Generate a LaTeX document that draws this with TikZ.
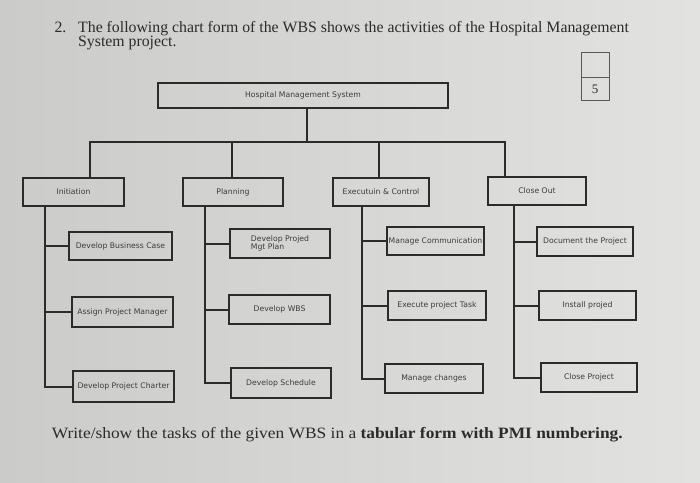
\documentclass[tikz,border=0pt]{standalone}
\usepackage{fontspec}
\setmainfont{Liberation Serif}
\newfontfamily\boxfont{DejaVu Sans}
\usepackage{xcolor}
\usetikzlibrary{positioning}
\definecolor{paperL}{HTML}{CBCBC9}
\definecolor{paperR}{HTML}{E2E2E0}
\definecolor{ink}{HTML}{2B2B2B}
\definecolor{boxink}{HTML}{3C3C3C}
\tikzset{
  wbsbox/.style={draw=ink,line width=2.2pt,inner sep=0pt,align=center,
    text=boxink,font=\boxfont\fontsize{7.7}{8}\selectfont},
  link/.style={draw=ink,line width=2pt},
  headtext/.style={anchor=base west,text=ink,font=\fontsize{15.8}{14.5}\selectfont}
}

\begin{document}
\begin{tikzpicture}[x=1pt,y=-1pt]
\shade[left color=paperL,right color=paperR](0,0)rectangle(700,482);
\useasboundingbox(0,0)rectangle(700,482);
% heading
\node[headtext](num)at(51,32){2.};
\node[headtext,anchor=north west,inner sep=0pt,align=left](head)at(78,21)
 {The following chart form of the WBS shows the activities of the Hospital Management\\System project.};
\node[headtext,xscale=1.1](task)at(48,438)
 {Write/show the tasks of the given WBS in a \textbf{tabular form with PMI numbering.}};
% mark box
\draw[gray!70!black,line width=0.8pt](581,52)rectangle(609,77)(581,77)rectangle(609,100);
\node[font=\fontsize{13}{13}\selectfont,text=ink](mark)at(595,89.5){5};
% boxes
\node[wbsbox,minimum width=290pt,minimum height=25pt](hms)at(303,95.5){Hospital Management System};
\node[wbsbox,minimum width=101pt,minimum height=28pt](init)at(73.5,192){Initiation};
\node[wbsbox,minimum width=100pt,minimum height=28pt](plan)at(233,192){Planning};
\node[wbsbox,minimum width=96pt,minimum height=28pt](exec)at(381,192){Executuin \& Control};
\node[wbsbox,minimum width=98pt,minimum height=28pt](close)at(537,191){Close Out};
\node[wbsbox,minimum width=103pt,minimum height=28pt](dbc)at(120.5,246){Develop Business Case};
\node[wbsbox,minimum width=101pt,minimum height=30pt](apm)at(122.5,312){Assign Project Manager};
\node[wbsbox,minimum width=101pt,minimum height=31pt](dpc)at(123.5,386.5){Develop Project Charter};
\node[wbsbox,minimum width=100pt,minimum height=29pt,align=left](dpmp)at(280,243.5){Develop Projed\\Mgt Plan};
\node[wbsbox,minimum width=101pt,minimum height=29pt](dwbs)at(279.5,309.5){Develop WBS};
\node[wbsbox,minimum width=100pt,minimum height=30pt](dsch)at(281,383){Develop Schedule};
\node[wbsbox,minimum width=97pt,minimum height=28pt](mcom)at(435.5,241){Manage Communication};
\node[wbsbox,minimum width=98pt,minimum height=29pt](ept)at(437,305.5){Execute project Task};
\node[wbsbox,minimum width=98pt,minimum height=29pt](mch)at(434,378.5){Manage changes};
\node[wbsbox,minimum width=96pt,minimum height=29pt](dtp)at(585,241.5){Document the Project};
\node[wbsbox,minimum width=97pt,minimum height=29pt](inst)at(587.5,305.5){Install projed};
\node[wbsbox,minimum width=96pt,minimum height=29pt](clp)at(589,377.5){Close Project};
% connectors
\coordinate(bus)at(307,142);
\path[link](hms.south-|bus)--(bus);
\path[link]([xshift=16.5pt]init.north)|-(bus);
\path[link]([xshift=-1pt]plan.north)|-(bus);
\path[link]([xshift=-2pt]exec.north)|-(bus);
\path[link]([xshift=-32pt]close.north)|-(bus);
\path[link]([xshift=-28.5pt]init.south)|-(dpc.west);
\path[link](dbc.west)-|([xshift=-28.5pt]init.south);
\path[link](apm.west)-|([xshift=-28.5pt]init.south);
\path[link]([xshift=-28pt]plan.south)|-(dsch.west);
\path[link](dpmp.west)-|([xshift=-28pt]plan.south);
\path[link](dwbs.west)-|([xshift=-28pt]plan.south);
\path[link]([xshift=-19pt]exec.south)|-(mch.west);
\path[link](mcom.west)-|([xshift=-19pt]exec.south);
\path[link](ept.west)-|([xshift=-19pt]exec.south);
\path[link]([xshift=-23pt]close.south)|-(clp.west);
\path[link](dtp.west)-|([xshift=-23pt]close.south);
\path[link](inst.west)-|([xshift=-23pt]close.south);
\end{tikzpicture}
\end{document}
